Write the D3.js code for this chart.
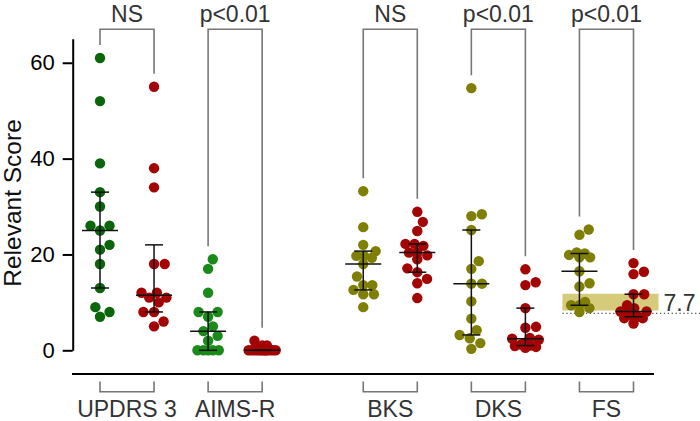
<!DOCTYPE html>
<html>
<head>
<meta charset="utf-8">
<script src="https://cdn.jsdelivr.net/npm/d3@7"></script>
<style>
    body { margin: 0; background: #fff; }
    text { font-family: "Liberation Sans", Arial, sans-serif; }
</style>
</head>
<body>
<div id="canvas"></div>
<script>
"use strict"

/* Data */
let categories = ["UPDRS 3", "AIMS-R", "BKS", "DKS", "FS"];
let significance = ["NS", "p<0.01", "NS", "p<0.01", "p<0.01"];
let beforeColors = ["#0b650b", "#1a8a1a", "#7f7f05", "#7f7f05", "#7f7f05"];
let afterColor = "#a30404";

let beforeScores = [
    [61, 52, 39, 33, 30, 26, 26, 25, 22, 21, 18, 13, 9, 8, 7],
    [19, 17, 12, 8, 8, 7, 5, 4, 3, 2, 0, 0, 0, 0, 0],
    [33.2, 25.7, 22, 20.7, 19.7, 19.7, 19.3, 18, 15.4, 13.6, 13.6, 12.6, 11.7, 11.7, 9],
    [54.7, 28.4, 28, 25.1, 18.6, 17, 13.9, 13.9, 10.2, 6.6, 4.2, 3.2, 2.5, 1.5, 0.3],
    [25.2, 24.1, 20.4, 20.2, 19.9, 19.4, 19.4, 16.5, 14, 13.3, 10.1, 9.4, 9.4, 8.8, 8]
];
let afterScores = [
    [55, 38, 34, 18, 18, 12, 12, 11, 11, 10, 8, 8, 6, 5],
    [2, 1, 1, 0, 0, 0, 0, 0, 0, 0, 0, 0, 0, 0, 0],
    [28.9, 26.8, 24.9, 22.2, 22.2, 21.8, 20.4, 20.4, 19.8, 19, 17.1, 16.3, 14.9, 14, 10.9],
    [16.9, 14.2, 13.6, 8.8, 4.9, 4.7, 2.6, 2.4, 2.2, 1.6, 1.2, 1.0, 0.9, 0.7, 0.5],
    [18.2, 16.4, 15.9, 11.7, 11.7, 9.4, 8.8, 8.1, 8.1, 7.8, 7.0, 7.0, 6.7, 6.7, 5.6]
];
let yTicks = [0, 20, 40, 60];
let fsBand = [8.3, 11.8];
let fsCutoff = 7.7;

/* Configuration variables: drawing */
let svgWidth = 700;
let svgHeight = 421;
let dotRadius = 5.2;
let gapSlots = 0.87;   // extra space between AIMS-R and BKS

let svg = d3.select("#canvas")
    .append("svg")
    .attr("width", svgWidth)
    .attr("height", svgHeight);

/* slot index of each column: two per category, a gap after the second category */
function slotOf(catIndex, seriesIndex) {
    return catIndex * 2 + seriesIndex + (catIndex >= 2 ? gapSlots : 0);
}

let xScale = d3.scaleLinear()
    .domain([0, slotOf(4, 1)])
    .range([100, 633.5]);

let yScale = d3.scaleLinear()
    .domain([0, 65])
    .range([350.3, 38.8]);

/* quartiles the way Prism computes them: position (n+1)p */
function quartile(values, p) {
    let s = values.slice().sort(d3.ascending);
    let n = s.length;
    let pos = (n + 1) * p;
    if (pos <= 1) return s[0];
    if (pos >= n) return s[n - 1];
    let lo = Math.floor(pos);
    return s[lo - 1] + (pos - lo) * (s[lo] - s[lo - 1]);
}

/* simple beeswarm: lowest value first, nearest free spot to the centre line,
   squeezed when a row gets wider than maxHalf */
function swarm(values) {
    let maxHalf = 14;
    let placed = [];
    let order = values.map((v, i) => i).sort((a, b) => values[a] - values[b]);
    let offsets = new Array(values.length).fill(0);
    order.forEach(function (i) {
        let py = yScale(values[i]);
        let diam = dotRadius * 2.05;
        let best = null;
        while (best === null) {
            let blocks = [];
            placed.forEach(function (p) {
                let dy = Math.abs(p.y - py);
                if (dy < diam) {
                    let dx = Math.sqrt(diam * diam - dy * dy);
                    blocks.push([p.x - dx, p.x + dx]);
                }
            });
            let candidates = [0];
            blocks.forEach(b => candidates.push(b[0], b[1]));
            candidates.sort((a, b) => Math.abs(a) - Math.abs(b) || b - a);
            for (let c of candidates) {
                if (Math.abs(c) > maxHalf + 0.01) continue;
                let free = blocks.every(b => c <= b[0] + 1e-6 || c >= b[1] - 1e-6);
                if (free) { best = c; break; }
            }
            diam *= 0.85;
            if (diam < 0.5 && best === null) best = 0;
        }
        offsets[i] = best;
        placed.push({ x: best, y: py });
    });
    return offsets;
}

/* Build one record per column */
let columns = [];
categories.forEach(function (name, ci) {
    columns.push({ cat: ci, slot: slotOf(ci, 0), values: beforeScores[ci], color: beforeColors[ci] });
    columns.push({ cat: ci, slot: slotOf(ci, 1), values: afterScores[ci], color: afterColor });
});

/* FS normal band and cut-off line (drawn behind the dots) */
let fsLeft = xScale(slotOf(4, 0)) - 17;
svg.append("rect")
    .attr("x", fsLeft)
    .attr("y", yScale(fsBand[1]))
    .attr("width", xScale(slotOf(4, 1)) + 25 - fsLeft)
    .attr("height", yScale(fsBand[0]) - yScale(fsBand[1]))
    .attr("fill", "#d6cb7b");

svg.append("line")
    .attr("x1", fsLeft)
    .attr("x2", svgWidth)
    .attr("y1", yScale(fsCutoff))
    .attr("y2", yScale(fsCutoff))
    .attr("stroke", "#555")
    .attr("stroke-width", 1.3)
    .attr("stroke-dasharray", "1.3 2.6");

svg.append("text")
    .attr("x", xScale(slotOf(4, 1)) + 30)
    .attr("y", yScale(fsCutoff) - 2.5)
    .attr("font-size", 23)
    .attr("fill", "#333")
    .text(String(fsCutoff));

/* Y axis */
let yAxis = svg.append("g")
    .attr("transform", "translate(72.7,0)")
    .call(d3.axisLeft(yScale).tickValues(yTicks).tickSize(10).tickSizeOuter(0).tickPadding(8));
yAxis.select(".domain").attr("stroke", "#000").attr("stroke-width", 2);
yAxis.selectAll(".tick line").attr("stroke", "#000").attr("stroke-width", 2);
yAxis.selectAll(".tick text")
    .attr("font-size", 22)
    .attr("font-family", "Liberation Sans, Arial, sans-serif")
    .attr("fill", "#000");

svg.append("text")
    .attr("transform", "translate(20.5,203) rotate(-90)")
    .attr("text-anchor", "middle")
    .attr("font-size", 24.5)
    .attr("fill", "#111")
    .text("Relevant Score");

/* detached X axis line */
svg.append("line")
    .attr("x1", 72)
    .attr("x2", 654)
    .attr("y1", 374)
    .attr("y2", 374)
    .attr("stroke", "#000")
    .attr("stroke-width", 2);

/* dots */
columns.forEach(function (col) {
    let offsets = swarm(col.values);
    svg.append("g")
        .selectAll("circle")
        .data(col.values)
        .join("circle")
        .attr("cx", (v, i) => xScale(col.slot) + offsets[i])
        .attr("cy", v => yScale(v))
        .attr("r", dotRadius)
        .attr("fill", col.color);
});

/* median with interquartile range */
columns.forEach(function (col) {
    let cx = xScale(col.slot);
    let med = d3.median(col.values);
    let q1 = quartile(col.values, 0.25);
    let q3 = quartile(col.values, 0.75);
    let g = svg.append("g")
        .attr("stroke", "#111")
        .attr("stroke-width", 1.5);
    g.append("line")
        .attr("x1", cx).attr("x2", cx)
        .attr("y1", yScale(q1)).attr("y2", yScale(q3));
    g.append("line")
        .attr("x1", cx - 18).attr("x2", cx + 18)
        .attr("y1", yScale(med)).attr("y2", yScale(med));
    [q1, q3].forEach(function (q) {
        g.append("line")
            .attr("x1", cx - 9).attr("x2", cx + 9)
            .attr("y1", yScale(q)).attr("y2", yScale(q));
    });
});

/* significance brackets on top, category brackets at the bottom */
categories.forEach(function (name, ci) {
    let xa = xScale(slotOf(ci, 0));
    let xb = xScale(slotOf(ci, 1));
    let legA = yScale(d3.max(beforeScores[ci])) - 13;
    let legB = yScale(d3.max(afterScores[ci])) - 13;

    svg.append("path")
        .attr("d", "M" + xa + "," + legA + "V29.3H" + xb + "V" + legB)
        .attr("fill", "none")
        .attr("stroke", "#777")
        .attr("stroke-width", 1.6);

    svg.append("text")
        .attr("x", (xa + xb) / 2)
        .attr("y", 21.5)
        .attr("text-anchor", "middle")
        .attr("font-size", 23)
        .attr("fill", "#333")
        .text(significance[ci]);

    svg.append("path")
        .attr("d", "M" + xa + ",381.5V391.7H" + xb + "V381.5")
        .attr("fill", "none")
        .attr("stroke", "#777")
        .attr("stroke-width", 1.6);

    svg.append("text")
        .attr("x", (xa + xb) / 2)
        .attr("y", 416.5)
        .attr("text-anchor", "middle")
        .attr("font-size", 23)
        .attr("fill", "#333")
        .text(name);
});
</script>
</body>
</html>
